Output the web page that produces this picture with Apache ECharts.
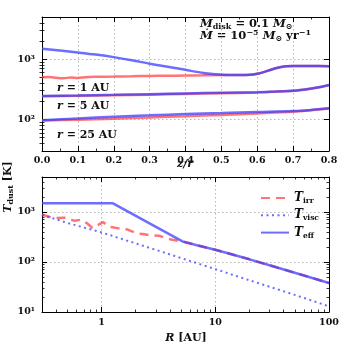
<!DOCTYPE html>
<html>
<head>
<meta charset="utf-8">
<script src="https://cdn.jsdelivr.net/npm/echarts@6/dist/echarts.min.js"></script>
<style>
html,body{margin:0;padding:0;background:#fff;}
#chart{width:347px;height:347px;}
</style>
</head>
<body>
<div id="chart"></div>
<script>
// top panel: vertical temperature profiles vs z/r
const zR1eff = [0, 0.05, 0.1, 0.15, 0.2, 0.25, 0.3, 0.35, 0.4, 0.45, 0.5, 0.55, 0.58, 0.6, 0.62, 0.64, 0.66, 0.68, 0.7, 0.75, 0.8];
const tR1eff = [1490, 1390, 1290, 1190, 1080, 960, 840, 750, 665, 590, 552, 546, 550, 572, 615, 675, 728, 762, 772, 770, 765];
const zR1irr = [0, 0.02, 0.04, 0.06, 0.08, 0.1, 0.12, 0.15, 0.2, 0.25, 0.3, 0.35, 0.4, 0.45, 0.5, 0.55, 0.58, 0.6, 0.62, 0.64, 0.66, 0.68, 0.7, 0.75, 0.8];
const tR1irr = [500, 506, 492, 482, 497, 486, 503, 510, 514, 520, 527, 530, 535, 540, 548, 546, 550, 572, 615, 675, 728, 762, 772, 770, 765];
const zR5 = [0, 0.1, 0.2, 0.3, 0.4, 0.5, 0.6, 0.65, 0.7, 0.72, 0.75, 0.78, 0.8];
const tR5eff = [245, 250, 256, 263, 270, 277, 284, 290, 300, 308, 325, 350, 372];
const tR5irr = [243, 247, 252, 258, 265, 272, 280, 288, 298, 307, 324, 349, 371];
const zR25 = [0, 0.1, 0.2, 0.3, 0.4, 0.5, 0.6, 0.7, 0.75, 0.8];
const tR25eff = [97, 104, 111, 117, 123, 128, 133, 138, 144, 153];
const tR25irr = [96, 99, 103, 108, 113, 119, 126, 134, 142, 152];

// bottom panel: midplane temperature vs R
const rEff = [0.3, 1.25, 5.2, 6.9, 10, 20, 30, 50, 100];
const tEff = [1500, 1500, 255, 216, 176, 113, 86, 61, 38];
const rIrr = [0.3, 0.38, 0.47, 0.58, 0.66, 0.75, 0.83, 0.92, 1.03, 1.2, 1.42, 1.7, 2.05, 2.3, 2.7, 3.2, 4.0, 5.2, 6.9, 10, 20, 30, 50, 100];
const tIrr = [880, 755, 770, 665, 700, 590, 485, 540, 625, 500, 470, 445, 370, 362, 340, 335, 285, 255, 216, 176, 113, 86, 61, 38];
const rVisc = [0.3, 0.5, 1, 2, 3, 5, 10, 20, 30, 50, 100];
const tVisc = [880, 605, 390, 235, 175, 120, 72, 43, 32, 22, 13];

const xTicksTop = [0, 0.1, 0.2, 0.3, 0.4, 0.5, 0.6, 0.7, 0.8];

const FONT = 'DejaVu Serif';
const RED = 'rgba(255,70,70,0.75)';
const BLUE = 'rgba(60,60,255,0.75)';

const chart = echarts.init(document.getElementById('chart'));

function pairs(xs, ys) { return xs.map((x, i) => [x, ys[i]]); }

// 2..9 x 10^k inside (lo, hi)
function minors(lo, hi) {
    const out = [];
    for (let p = -1; p <= 3; p++) {
        for (let k = 2; k <= 9; k++) {
            const v = k * Math.pow(10, p);
            if (v > lo * 1.0001 && v < hi * 0.9999) out.push(+v.toPrecision(3));
        }
    }
    return out;
}

const sup = {1: '\u00b9', 2: '\u00b2', 3: '\u00b3'};
function powLabel(v) {
    const e = Math.log10(v), r = Math.round(e);
    if (Math.abs(e - r) > 1e-3) return '';
    return '10' + sup[r];
}
function plainPow(v) {
    const e = Math.log10(v), r = Math.round(e);
    if (Math.abs(e - r) > 1e-3) return '';
    return String(Math.round(v));
}

const tick = {show: true, inside: true, length: 5, lineStyle: {color: '#000', width: 1}};
const splitDots = {show: true, lineStyle: {color: '#b5b5b5', type: [1.5, 2.5], width: 1}};
const lbl = {fontFamily: FONT, fontWeight: 'bold', fontSize: 9.5, color: '#111'};

function axis(grid, pos, type, min, max, extra) {
    return Object.assign({
        gridIndex: grid, position: pos, type: type, min: min, max: max,
        axisLine: {show: true, onZero: false, lineStyle: {color: '#000', width: 1}},
        axisTick: tick,
        axisLabel: {show: false},
        splitLine: {show: false}
    }, extra || {});
}
function minorAxis(grid, pos, min, max) {
    return {
        gridIndex: grid, position: pos, type: 'log', min: min, max: max,
        axisLine: {show: false}, axisLabel: {show: false}, splitLine: {show: false},
        axisTick: {show: true, inside: true, length: 2.5, lineStyle: {color: '#000', width: 0.8},
            customValues: minors(min, max)}
    };
}

const linMinor = {show: true, splitNumber: 2, length: 2.5, lineStyle: {color: '#000', width: 0.8}};

const xAxis = [
    axis(0, 'bottom', 'value', 0, 0.8, {interval: 0.1, minorTick: linMinor, splitLine: splitDots,
        axisLabel: Object.assign({show: true, margin: 5, formatter: v => v.toFixed(1),
            customValues: xTicksTop}, lbl)}),
    axis(0, 'top', 'value', 0, 0.8, {interval: 0.1, minorTick: linMinor}),
    axis(1, 'bottom', 'log', 0.3, 100, {splitLine: splitDots,
        axisLabel: Object.assign({show: true, margin: 6, formatter: plainPow}, lbl)}),
    axis(1, 'top', 'log', 0.3, 100),
    minorAxis(1, 'bottom', 0.3, 100),
    minorAxis(1, 'top', 0.3, 100)
];

const yAxis = [
    axis(0, 'left', 'log', 30, 5000, {splitLine: splitDots,
        axisLabel: Object.assign({show: true, margin: 7, formatter: powLabel}, lbl)}),
    axis(0, 'right', 'log', 30, 5000),
    minorAxis(0, 'left', 30, 5000),
    minorAxis(0, 'right', 30, 5000),
    axis(1, 'left', 'log', 10, 5000, {splitLine: splitDots,
        axisLabel: Object.assign({show: true, margin: 7, formatter: powLabel}, lbl)}),
    axis(1, 'right', 'log', 10, 5000),
    minorAxis(1, 'left', 10, 5000),
    minorAxis(1, 'right', 10, 5000)
];

function profileLine(name, xs, ys, color) {
    return {type: 'line', name: name, xAxisIndex: 0, yAxisIndex: 0, data: pairs(xs, ys),
        symbol: 'none', smooth: 0.3, lineStyle: {color: color, width: 2.5}, silent: true};
}

const series = [
    profileLine('irr1', zR1irr, tR1irr, RED),
    profileLine('irr5', zR5, tR5irr, RED),
    profileLine('irr25', zR25, tR25irr, RED),
    profileLine('eff1', zR1eff, tR1eff, BLUE),
    profileLine('eff5', zR5, tR5eff, BLUE),
    profileLine('eff25', zR25, tR25eff, BLUE),
    {type: 'line', name: 'irr', xAxisIndex: 2, yAxisIndex: 4, data: pairs(rIrr, tIrr), symbol: 'none',
        itemStyle: {color: RED}, lineStyle: {color: RED, width: 2.5, type: [9, 6]}},
    {type: 'line', name: 'visc', xAxisIndex: 2, yAxisIndex: 4, data: pairs(rVisc, tVisc), symbol: 'none',
        itemStyle: {color: BLUE}, lineStyle: {color: BLUE, width: 2, type: [2, 3.5]}},
    {type: 'line', name: 'eff', xAxisIndex: 2, yAxisIndex: 4, data: pairs(rEff, tEff), symbol: 'none',
        itemStyle: {color: BLUE}, lineStyle: {color: BLUE, width: 2.5}}
];

const rich = {
    i: {fontFamily: FONT, fontStyle: 'italic', fontWeight: 'bold', fontSize: 11.5, lineHeight: 14},
    n: {fontFamily: FONT, fontWeight: 'bold', fontSize: 11.5, lineHeight: 14},
    s: {fontFamily: FONT, fontWeight: 'bold', fontSize: 8, lineHeight: 14, verticalAlign: 'bottom'},
    p: {fontFamily: FONT, fontWeight: 'bold', fontSize: 8, lineHeight: 14, verticalAlign: 'top'}
};
const richSmall = {
    i: Object.assign({}, rich.i, {fontSize: 11}),
    n: Object.assign({}, rich.n, {fontSize: 11}),
    s: rich.s, p: rich.p
};

function txt(x, y, text, align, extra, r) {
    return Object.assign({type: 'text', x: x, y: y, silent: true, style: {
        text: text, align: align || 'left', verticalAlign: 'middle', rich: r || richSmall,
        fontFamily: FONT, fontWeight: 'bold', fontSize: 11, fill: '#111'}}, extra || {});
}

chart.setOption({
    animation: false,
    backgroundColor: '#fff',
    grid: [
        {left: 42, top: 17, width: 287, height: 134},
        {left: 42, top: 177, width: 287, height: 135}
    ],
    xAxis: xAxis,
    yAxis: yAxis,
    legend: {
        left: 255, top: 187, orient: 'vertical', itemWidth: 28, itemHeight: 14, itemGap: 4.3,
        data: ['irr', 'visc', 'eff'],
        itemStyle: {opacity: 0, color: 'transparent', borderColor: 'transparent'},
        formatter: n => '{t|T}{s|' + n + '}',
        textStyle: {rich: {
            t: {fontFamily: FONT, fontStyle: 'italic', fontWeight: 'bold', fontSize: 12, lineHeight: 14, color: '#111'},
            s: {fontFamily: FONT, fontWeight: 'bold', fontSize: 7.5, lineHeight: 14, verticalAlign: 'bottom', color: '#111'}
        }}
    },
    graphic: [
        txt(8, 187, '{i|T}{s|dust}{n| [K]}', 'center', {rotation: Math.PI / 2}),
        txt(185, 164, '{i|z/r}', 'center'),
        txt(186, 338, '{i|R}{n| [AU]}', 'center'),
        txt(57, 88, '{i|r}{n| = 1 AU}'),
        txt(57, 106, '{i|r}{n| = 5 AU}'),
        txt(57, 135, '{i|r}{n| = 25 AU}'),
        txt(200, 24, '{i|M}{s|disk}{n| = 0.1 }{i|M}{s|\u2299}', 'left', null, rich),
        txt(200, 36, '{i|\u1e40}{n| = 10}{p|\u22125}{n| }{i|M}{s|\u2299}{n| yr}{p|\u22121}', 'left', null, rich)
    ],
    series: series
});
</script>
</body>
</html>
